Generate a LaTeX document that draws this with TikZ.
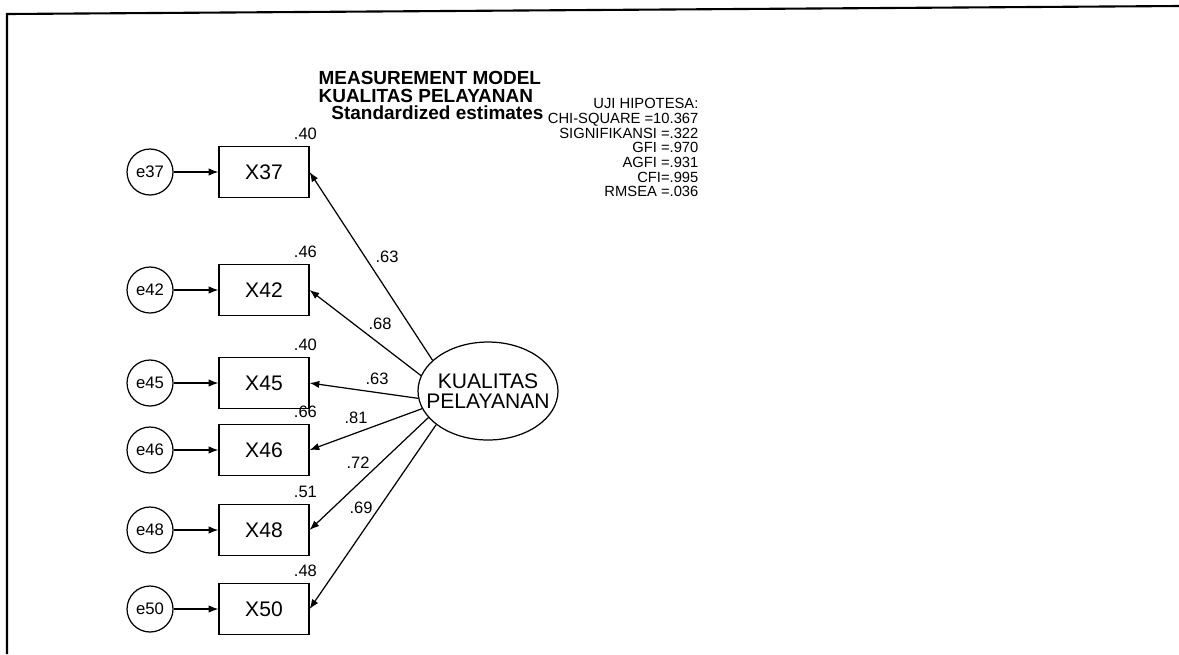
\documentclass[tikz,border=0pt]{standalone}
\usepackage{fontspec}
\setmainfont{Liberation Sans}
\usetikzlibrary{shapes.geometric,arrows.meta}
\tikzset{
  obs/.style={draw,rectangle,minimum width=1.8cm,minimum height=1.02cm,inner sep=0pt,font=\fontsize{12}{14}\selectfont},
  err/.style={draw,circle,minimum size=0.92cm,inner sep=0pt,font=\fontsize{9.5}{11}\selectfont},
  lat/.style={draw,ellipse,minimum width=2.8cm,minimum height=1.96cm,inner xsep=-10pt,inner ysep=0pt,align=center,font=\fontsize{12}{11.3}\selectfont},
  est/.style={inner sep=0pt,font=\fontsize{9.4}{10}\selectfont},
  ttl/.style={inner sep=0pt,font=\bfseries\fontsize{10.8}{12}\selectfont},
  gof/.style={inner sep=0pt,align=right,font=\fontsize{8.4}{8.33}\selectfont}
}
\begin{document}
\begin{tikzpicture}[x=0.02cm,y=-0.02cm,->,>={Latex[length=5.5pt,width=4.2pt]},line width=0.7pt,node distance=2.28cm]
\useasboundingbox (0,0) rectangle (1179,654);
% frame
\draw[-,line width=1.2pt] (7,654) -- (7,14) -- (1179,6);

% title and fit
\node[ttl,anchor=west] (t1) at (318,78) {MEASUREMENT MODEL};
\node[ttl,anchor=west] (t2) at (318,96) {KUALITAS PELAYANAN};
\node[ttl,anchor=east] (t3) at (544,113) {Standardized estimates};
\node[gof,anchor=north east] (uji) at (699,98) {UJI HIPOTESA:\\CHI-SQUARE =10.367\\SIGNIFIKANSI =.322\\GFI =.970\\AGFI =.931\\CFI=.995\\RMSEA =.036};

% indicators
\node[obs] (X37) at (264,172) {X37}; \node[obs] (X42) at (264,290) {X42};
\node[obs] (X45) at (264,383) {X45}; \node[obs] (X46) at (264,450) {X46};
\node[obs] (X48) at (264,530) {X48}; \node[obs] (X50) at (264,609) {X50};
\node[err,left of=X37] (e37) {e37}; \node[err,left of=X42] (e42) {e42};
\node[err,left of=X45] (e45) {e45}; \node[err,left of=X46] (e46) {e46};
\node[err,left of=X48] (e48) {e48}; \node[err,left of=X50] (e50) {e50};
\node[lat] (K) at (488,391) {KUALITAS\\PELAYANAN};

% squared multiple correlations
\node[est,anchor=base east] (r37) at ([shift={(4.5pt,3.6pt)}]X37.north east) {.40};
\node[est,anchor=base east] (r42) at ([shift={(4.5pt,3.6pt)}]X42.north east) {.46};
\node[est,anchor=base east] (r45) at ([shift={(4.5pt,3.6pt)}]X45.north east) {.40};
\node[est,anchor=base east] (r46) at ([shift={(4.5pt,3.6pt)}]X46.north east) {.66};
\node[est,anchor=base east] (r48) at ([shift={(4.5pt,3.6pt)}]X48.north east) {.51};
\node[est,anchor=base east] (r50) at ([shift={(4.5pt,3.6pt)}]X50.north east) {.48};

% errors
\draw (e37)--(X37); \draw (e42)--(X42); \draw (e45)--(X45);
\draw (e46)--(X46); \draw (e48)--(X48); \draw (e50)--(X50);

% loadings
\draw (K.151)--(X37.east); \draw (K.167)--(X42.east); \draw (K.186)--(X45.east);
\draw (K.195)--(X46.east); \draw (K.204)--(X48.east); \draw (K.213)--(X50.east);
\node[est] (l37) at (387,257) {.63}; \node[est] (l42) at (380,324) {.68};
\node[est] (l45) at (377,379) {.63}; \node[est] (l46) at (356,418) {.81};
\node[est] (l48) at (358,463) {.72}; \node[est] (l50) at (361,508) {.69};
\end{tikzpicture}
\end{document}
